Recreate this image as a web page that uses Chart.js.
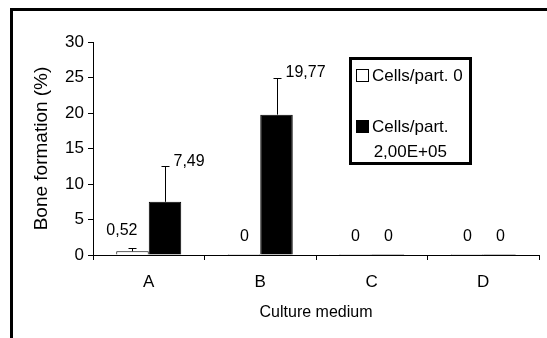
<!DOCTYPE html>
<html>
<head>
<meta charset="utf-8">
<script src="https://cdn.jsdelivr.net/npm/chart.js@4.4.0/dist/chart.umd.min.js"></script>
<style>
  html, body { margin: 0; padding: 0; background: #fff; }
  #wrap { width: 547px; height: 338px; }
</style>
</head>
<body>
<div id="wrap"><canvas id="myChart" width="547" height="338"></canvas></div>
<script>
const categories = ['A', 'B', 'C', 'D'];
const seriesLabels = ['Cells/part. 0', 'Cells/part. 2,00E+05'];
const noCells = [0.52, 0, 0, 0];
const withCells = [7.49, 19.77, 0, 0];
const noCellsErr = [0.45, 0, 0, 0];
const withCellsErr = [5.0, 5.2, 0, 0];
const yTicks = [0, 5, 10, 15, 20, 25, 30];

const FONT = 'Liberation Sans, Arial, sans-serif';
const errors = [noCellsErr, withCellsErr];
const fmt = v => String(v).replace('.', ',');

// outer frame of the figure
const framePlugin = {
  id: 'frame',
  beforeDraw: chart => {
    const ctx = chart.ctx;
    ctx.save();
    ctx.fillStyle = '#fff';
    ctx.fillRect(0, 0, chart.width, chart.height);
    ctx.strokeStyle = '#000';
    ctx.lineWidth = 3;
    ctx.strokeRect(11.5, 9.5, 700, 500);
    ctx.restore();
  }
};

// error bars + value labels
const barExtras = {
  id: 'barExtras',
  afterDatasetsDraw: chart => {
    const ctx = chart.ctx;
    const y = chart.scales.y;
    ctx.save();
    ctx.strokeStyle = '#000';
    ctx.fillStyle = '#000';
    ctx.lineWidth = 1;
    ctx.font = '16px ' + FONT;
    chart.data.datasets.forEach((ds, i) => {
      chart.getDatasetMeta(i).data.forEach((bar, j) => {
        const v = ds.data[j];
        const e = errors[i][j];
        const x = Math.round(bar.x) + 0.5;
        const yTop = y.getPixelForValue(v + e);
        if (e > 0) {
          ctx.beginPath();
          ctx.moveTo(x, y.getPixelForValue(v));
          ctx.lineTo(x, Math.round(yTop) + 0.5);
          ctx.moveTo(x - 4, Math.round(yTop) + 0.5);
          ctx.lineTo(x + 4, Math.round(yTop) + 0.5);
          ctx.stroke();
        }
        ctx.textBaseline = 'middle';
        if (i === 1 && e > 0) {
          ctx.textAlign = 'left';
          ctx.fillText(fmt(v), x + 8, yTop - 5);
        } else if (e > 0) {
          // small value label sits a little to the left, as in the original
          ctx.textAlign = 'right';
          ctx.fillText(fmt(v), x + 5, yTop - 18);
        } else {
          ctx.textAlign = 'center';
          ctx.fillText(fmt(v), x, yTop - 18);
        }
      });
    });
    ctx.restore();
  }
};

// boxed legend, wrapped like the original
const boxLegend = {
  id: 'boxLegend',
  afterDraw: chart => {
    const ctx = chart.ctx;
    ctx.save();
    ctx.strokeStyle = '#000';
    ctx.lineWidth = 3;
    ctx.strokeRect(350.5, 58.5, 120, 105);
    ctx.font = '17px ' + FONT;
    ctx.textBaseline = 'middle';
    ctx.lineWidth = 1;
    let cy = 76;
    chart.data.datasets.forEach(ds => {
      // wrap text
      const words = ds.label.split(' ');
      const lines = [];
      let cur = '';
      for (const w of words) {
        const t = cur ? cur + ' ' + w : w;
        if (ctx.measureText(t).width > 95 && cur) { lines.push(cur); cur = w; } else cur = t;
      }
      lines.push(cur);
      const maxW = Math.max(...lines.map(l => ctx.measureText(l).width));
      ctx.fillStyle = ds.backgroundColor;
      ctx.fillRect(356.5, cy - 6.5, 12, 12);
      ctx.strokeRect(356.5, cy - 6.5, 12, 12);
      ctx.fillStyle = '#000';
      ctx.textAlign = 'center';
      lines.forEach((l, k) => ctx.fillText(l, 372 + maxW / 2, cy + k * 25.5));
      cy += lines.length * 25.5 + 25.5;
    });
    ctx.restore();
  }
};

new Chart(document.getElementById('myChart'), {
  type: 'bar',
  data: {
    labels: categories,
    datasets: [
      {
        label: seriesLabels[0],
        data: noCells,
        backgroundColor: '#ffffff',
        borderColor: '#000000',
        borderWidth: 1,
        minBarLength: 1
      },
      {
        label: seriesLabels[1],
        data: withCells,
        backgroundColor: '#000000',
        borderColor: '#000000',
        borderWidth: 1,
        minBarLength: 1
      }
    ]
  },
  options: {
    responsive: false,
    animation: false,
    devicePixelRatio: 1,
    layout: { padding: { left: 0, top: 42, right: 8, bottom: 0 } },
    datasets: { bar: { categoryPercentage: 0.583, barPercentage: 1 } },
    plugins: {
      legend: { display: false },
      tooltip: { enabled: false }
    },
    scales: {
      x: {
        afterFit: s => { s.height = 83; },
        grid: { drawOnChartArea: false, color: '#000', tickLength: 5, offset: true },
        border: { color: '#000', width: 1 },
        ticks: { color: '#000', padding: 12, font: { family: FONT, size: 17 } },
        title: {
          display: true,
          text: 'Culture medium',
          color: '#000',
          font: { family: FONT, size: 16 },
          padding: { top: 0, bottom: 16 }
        }
      },
      y: {
        min: 0,
        max: 30,
        afterFit: s => { s.width = 93; },
        afterBuildTicks: s => { s.ticks = yTicks.map(v => ({ value: v })); },
        grid: { drawOnChartArea: false, color: '#000', tickLength: 5 },
        border: { color: '#000', width: 1 },
        ticks: { color: '#000', padding: 4, font: { family: FONT, size: 17 } },
        title: {
          display: true,
          text: 'Bone formation (%)',
          color: '#000',
          font: { family: FONT, size: 19 },
          padding: { top: 30, bottom: 0 }
        }
      }
    }
  },
  plugins: [framePlugin, barExtras, boxLegend]
});
</script>
</body>
</html>
